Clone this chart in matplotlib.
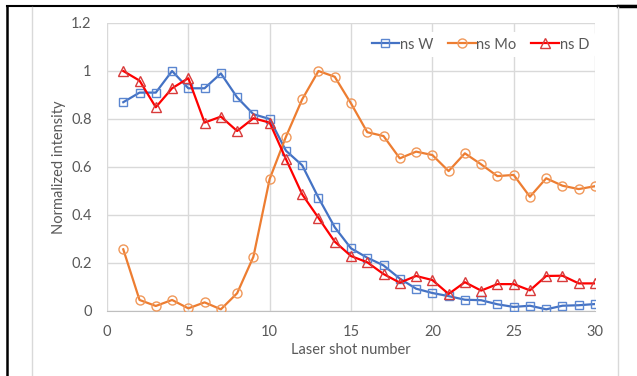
import matplotlib.pyplot as plt
from matplotlib.lines import Line2D

shots = list(range(1, 31))
ns_w = [0.87, 0.91, 0.91, 1.0, 0.928, 0.928, 0.99, 0.89, 0.82, 0.80,
        0.668, 0.607, 0.472, 0.349, 0.261, 0.222, 0.19, 0.135, 0.093, 0.075,
        0.062, 0.047, 0.045, 0.028, 0.017, 0.022, 0.007, 0.022, 0.024, 0.029]
ns_mo = [0.257, 0.046, 0.021, 0.046, 0.011, 0.036, 0.007, 0.074, 0.226, 0.55,
         0.726, 0.882, 1.0, 0.976, 0.865, 0.745, 0.729, 0.636, 0.664, 0.65,
         0.583, 0.657, 0.611, 0.562, 0.567, 0.476, 0.553, 0.522, 0.508, 0.52]
ns_d = [1.0, 0.96, 0.849, 0.928, 0.97, 0.785, 0.81, 0.75, 0.803, 0.785,
        0.633, 0.486, 0.388, 0.289, 0.229, 0.203, 0.154, 0.118, 0.146, 0.129,
        0.071, 0.12, 0.085, 0.112, 0.112, 0.086, 0.146, 0.147, 0.115, 0.115]

plt.rcParams['font.family'] = ['Lato', 'DejaVu Sans']
txt = '#595959'
grid = '#D9D9D9'
fs = 10.5

fig = plt.figure(figsize=(6.37, 3.76), dpi=100)
ax = fig.add_axes([107 / 637, 1 - 311 / 376, 488 / 637, 288 / 376])

ax.plot(shots, ns_w, color='#4472C4', lw=1.6, marker='s', ms=5.5,
        mfc='none', mec='#5B86D0', mew=1.0, label='ns W', zorder=3)
ax.plot(shots, ns_mo, color='#ED7D31', lw=1.6, marker='o', ms=6.5,
        mfc='none', mec='#F0985A', mew=1.0, label='ns Mo', zorder=3)
ax.plot(shots, ns_d, color='#FF0000', lw=1.6, marker='^', ms=6.5,
        mfc='none', mec='#D83B3B', mew=1.0, label='ns D', zorder=4)

ax.set_xlim(0, 30)
ax.set_ylim(0, 1.2)
ax.set_xticks(range(0, 31, 5))
ax.set_yticks([0, 0.2, 0.4, 0.6, 0.8, 1.0, 1.2])
ax.set_yticklabels(['0', '0.2', '0.4', '0.6', '0.8', '1', '1.2'])
ax.grid(True, color=grid, lw=1.0)
ax.set_axisbelow(True)
for s in ['top', 'right', 'left']:
    ax.spines[s].set_visible(False)
ax.spines['bottom'].set_color('#BFBFBF')
ax.tick_params(length=0, colors=txt, labelsize=fs)
ax.tick_params(axis='x', pad=10)
ax.tick_params(axis='y', pad=11)
ax.set_xlabel('Laser shot number', color=txt, fontsize=fs, labelpad=3)
ax.set_ylabel('Normalized intensity', color=txt, fontsize=fs, labelpad=4)

leg = ax.legend(loc='upper right', ncol=3, frameon=True, fontsize=fs,
                handlelength=1.9, handletextpad=0.05, columnspacing=1.0,
                borderaxespad=0.6, bbox_to_anchor=(1.018, 1.0))
leg.get_frame().set_facecolor('white')
leg.get_frame().set_edgecolor('none')
leg.get_frame().set_alpha(1)
for t in leg.get_texts():
    t.set_color(txt)

# page / chart border lines
W, H = 637, 376
fig.add_artist(Line2D([7 / W, 7 / W], [0, 1 - 6 / H], color='black', lw=1.8))
fig.add_artist(Line2D([7 / W, 1], [1 - 6 / H, 1 - 6 / H], color='black', lw=1.5))
fig.add_artist(Line2D([618 / W, 1], [1 - 6 / H, 1 - 6 / H], color='black', lw=2.5))
fig.add_artist(Line2D([32 / W, 32 / W], [0, 1 - 7 / H], color=grid, lw=1.0))
fig.add_artist(Line2D([618 / W, 618 / W], [0, 1 - 7 / H], color=grid, lw=1.0))

fig.savefig('out.png', dpi=100)
